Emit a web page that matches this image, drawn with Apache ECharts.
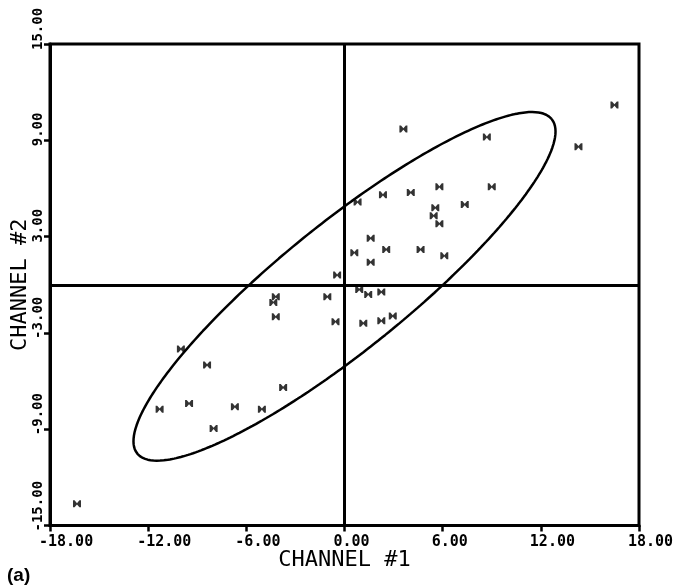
<!DOCTYPE html>
<html>
<head>
<meta charset="utf-8">
<title>CHANNEL #1 vs CHANNEL #2</title>
<script src="https://cdn.jsdelivr.net/npm/echarts@6/dist/echarts.min.js"></script>
<style>
  html, body { margin: 0; padding: 0; background: #fff; }
  #chart { width: 675px; height: 587px; }
</style>
</head>
<body>
<div id="chart"></div>
<script>
// Sample values, one entry per measured pair
const channel1 = [16.5, 3.6, 8.7, 14.3, 5.8, 9.0, 2.35, 4.05, 0.8, 5.55,
                  5.45, 5.8, 7.35, 1.6, 0.6, 2.55, 4.65, 1.6, 6.1, -0.45,
                  0.9, 1.45, 2.25, -4.2, -4.35, -4.2, -1.05, -0.55, 1.15, 2.25,
                  2.95, -10.0, -8.4, -3.75, -11.3, -9.5, -6.7, -5.05, -8.0, -16.35];
const channel2 = [11.2, 9.7, 9.2, 8.6, 6.1, 6.1, 5.6, 5.75, 5.15, 4.8,
                  4.3, 3.8, 5.0, 2.9, 2.0, 2.2, 2.2, 1.4, 1.8, 0.6,
                  -0.3, -0.6, -0.45, -0.75, -1.1, -2.0, -0.75, -2.3, -2.4, -2.25,
                  -1.95, -4.0, -5.0, -6.4, -7.75, -7.4, -7.6, -7.75, -8.95, -13.65];

// Axis ticks
const xTicks = [-18, -12, -6, 0, 6, 12, 18];
const yTicks = [-15, -9, -3, 3, 9, 15];

// Confidence ellipse: centre, semi-axes and tilt of the major axis
const ellipseCenter = [0.0, -0.1];
const ellipseSemiMajor = 16.4;
const ellipseSemiMinor = 3.92;
const ellipseTiltDeg = 39.5;

const points = channel1.map((x, i) => [x, channel2[i]]);

function ellipsePath(center, a, b, tiltDeg, n) {
  const th = tiltDeg * Math.PI / 180;
  const c = Math.cos(th), s = Math.sin(th);
  const out = [];
  for (let k = 0; k <= n; k++) {
    const t = 2 * Math.PI * k / n;
    const u = a * Math.cos(t), v = b * Math.sin(t);
    out.push([center[0] + u * c - v * s, center[1] + u * s + v * c]);
  }
  return out;
}

const ink = '#000';
const tickFont = 'DejaVu Sans Mono';
const bowtie = 'path://M0,0H2L5,4L8,0H10V10H8L5,6L2,10H0Z';

const chart = echarts.init(document.getElementById('chart'), null, { renderer: 'canvas' });

chart.setOption({
  backgroundColor: '#fff',
  animation: false,
  grid: {
    left: 50, right: 36, top: 44, bottom: 61.5,
    containLabel: false, outerBoundsMode: 'none',
    show: true, borderColor: ink, borderWidth: 3, backgroundColor: 'transparent'
  },
  xAxis: {
    type: 'value',
    min: xTicks[0], max: xTicks[xTicks.length - 1], interval: 6,
    name: 'CHANNEL #1',
    nameLocation: 'middle',
    nameGap: 24,
    nameMoveOverlap: false,
    nameTextStyle: { color: ink, fontFamily: tickFont, fontSize: 22, fontWeight: 'normal' },
    axisLine: { show: true, onZero: false, lineStyle: { color: ink, width: 3 } },
    axisTick: { show: true, inside: false, length: 6, lineStyle: { color: ink, width: 2.5 } },
    splitLine: { show: false },
    axisLabel: {
      color: ink, fontFamily: tickFont, fontSize: 15, fontWeight: 'bold',
      margin: 9, align: 'left', padding: [0, 0, 0, -11],
      interval: 0, showMinLabel: true, showMaxLabel: true, hideOverlap: false,
      formatter: v => v.toFixed(2)
    }
  },
  yAxis: {
    type: 'value',
    min: yTicks[0], max: yTicks[yTicks.length - 1], interval: 6,
    name: 'CHANNEL #2',
    nameLocation: 'middle',
    nameGap: 19,
    nameRotate: 90,
    nameMoveOverlap: false,
    nameTextStyle: { color: ink, fontFamily: tickFont, fontSize: 22, fontWeight: 'normal' },
    axisLine: { show: true, onZero: false, lineStyle: { color: ink, width: 3 } },
    axisTick: { show: true, inside: false, length: 6, lineStyle: { color: ink, width: 2.5 } },
    splitLine: { show: false },
    axisLabel: {
      color: ink, fontFamily: tickFont, fontSize: 14, fontWeight: 'bold',
      rotate: 90, margin: 5, align: 'left', verticalAlign: 'bottom',
      padding: [0, 0, 0, -6],
      interval: 0, showMinLabel: true, showMaxLabel: true, hideOverlap: false,
      formatter: v => v.toFixed(2)
    }
  },
  series: [
    {
      type: 'line',
      name: 'ellipse',
      data: ellipsePath(ellipseCenter, ellipseSemiMajor, ellipseSemiMinor, ellipseTiltDeg, 360),
      showSymbol: false,
      smooth: false,
      silent: true,
      lineStyle: { color: ink, width: 2.5 },
      z: 3
    },
    {
      type: 'scatter',
      name: 'samples',
      data: points,
      symbol: bowtie,
      symbolSize: [8, 7],
      itemStyle: { color: ink },
      z: 4,
      markLine: {
        silent: true,
        symbol: ['none', 'none'],
        label: { show: false },
        lineStyle: { color: ink, width: 3, type: 'solid' },
        emphasis: { disabled: true },
        data: [{ xAxis: 0 }, { yAxis: 0 }]
      }
    }
  ],
  graphic: [
    {
      type: 'text',
      left: 7, top: 566,
      style: { text: '(a)', fill: ink, font: 'bold 19px "Liberation Sans", Arial, sans-serif' }
    }
  ]
});
</script>
</body>
</html>
